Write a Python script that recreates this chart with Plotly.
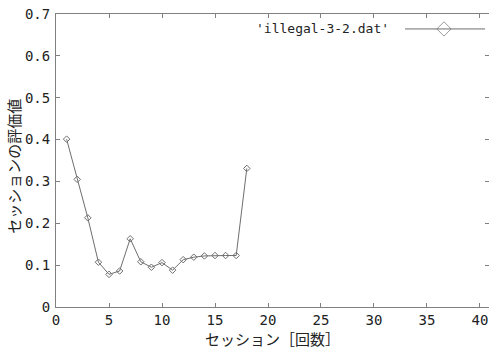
import plotly.graph_objects as go

# Data
sessions = [1, 2, 3, 4, 5, 6, 7, 8, 9, 10, 11, 12, 13, 14, 15, 16, 17, 18]
scores = [0.401, 0.305, 0.213, 0.107, 0.078, 0.086, 0.163, 0.108, 0.095, 0.106,
          0.088, 0.113, 0.119, 0.122, 0.123, 0.123, 0.123, 0.331]
series_name = "'illegal-3-2.dat'"
x_title = "セッション［回数］"
y_title = "セッションの評価値"
x_ticks = [0, 5, 10, 15, 20, 25, 30, 35, 40]
y_ticks = [0, 0.1, 0.2, 0.3, 0.4, 0.5, 0.6, 0.7]

LINE = "#6e6e6e"
AXIS = "#808080"
TXT = "#222222"
TICKFONT = dict(family="DejaVu Sans Mono, monospace", size=14, color=TXT)
JPFONT = dict(family="Noto Sans CJK JP", size=15, color=TXT)

fig = go.Figure()
fig.add_trace(go.Scatter(
    x=sessions, y=scores, mode="lines+markers",
    line=dict(color=LINE, width=1),
    marker=dict(symbol="diamond-open", size=5, color=LINE, line=dict(width=1, color=LINE)),
    showlegend=False, hoverinfo="skip"))

# legend sample (line + diamond) on an overlay axis in plot-fraction units
fig.add_trace(go.Scatter(
    x=[0.806, 0.896, 0.991], y=[0.949, 0.949, 0.949], mode="lines+markers",
    xaxis="x2", yaxis="y2",
    line=dict(color=LINE, width=1),
    marker=dict(symbol="diamond-open", size=[0, 11, 0], color=LINE, line=dict(width=1, color=LINE)),
    showlegend=False, hoverinfo="skip"))

fig.update_layout(
    width=489, height=347,
    margin=dict(l=56, r=0, t=14, b=40),
    paper_bgcolor="white", plot_bgcolor="white",
    showlegend=False,
    xaxis=dict(range=[0, 40.85], tickvals=x_ticks, ticks="inside", ticklen=4,
               tickcolor=AXIS, showline=True, linecolor=AXIS, linewidth=1,
               mirror="allticks", showgrid=False, zeroline=False,
               tickfont=TICKFONT, ticklabelstandoff=0, ticklabeloverflow="allow"),
    yaxis=dict(range=[0, 0.7], tickvals=y_ticks, ticktext=[("0" if v == 0 else f"{v:.1f}") for v in y_ticks],
               ticks="inside", ticklen=4,
               tickcolor=AXIS, showline=True, linecolor=AXIS, linewidth=1,
               mirror="allticks", showgrid=False, zeroline=False,
               tickfont=TICKFONT, ticklabelstandoff=2, ticklabeloverflow="allow"),
    xaxis2=dict(range=[0, 1], overlaying="x", visible=False, domain=[0, 1]),
    yaxis2=dict(range=[0, 1], overlaying="y", visible=False),
    annotations=[
        dict(text=series_name, xref="paper", yref="paper", x=0.773, y=0.949,
             xanchor="right", yanchor="middle", showarrow=False,
             font=dict(family="DejaVu Sans Mono, monospace", size=13, color=TXT)),
        dict(text=x_title, xref="paper", yref="paper", x=0.5, y=-0.1058,
             xanchor="center", yanchor="middle", showarrow=False, font=JPFONT,
             height=18),
        dict(text=y_title, xref="paper", yref="paper", x=-0.1, y=0.481,
             xanchor="center", yanchor="middle", showarrow=False, textangle=-90,
             font=JPFONT),
    ],
)

fig.write_html("out.html")
